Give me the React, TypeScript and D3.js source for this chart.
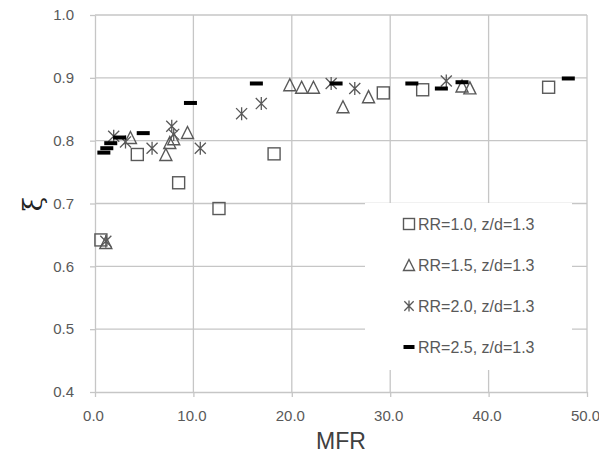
import React, { useEffect, useRef } from 'react';
import * as d3 from 'd3';

// [MFR, xi]
const rr10 = [[0.6, 0.642], [4.3, 0.778], [8.5, 0.733], [12.6, 0.692], [18.2, 0.779], [29.3, 0.876], [33.3, 0.881], [46.1, 0.885]];
const rr15 = [[1.1, 0.638], [3.6, 0.805], [7.2, 0.778], [7.6, 0.797], [8.0, 0.803], [9.4, 0.813], [19.8, 0.889], [21.0, 0.885], [22.2, 0.885], [25.2, 0.854], [27.8, 0.870], [37.3, 0.887], [38.1, 0.884]];
const rr20 = [[1.1, 0.640], [1.9, 0.807], [3.1, 0.798], [5.8, 0.788], [7.8, 0.823], [8.0, 0.810], [10.7, 0.788], [14.9, 0.843], [16.9, 0.859], [24.0, 0.891], [26.4, 0.883], [35.7, 0.895]];
const rr25 = [[0.9, 0.781], [1.2, 0.788], [1.6, 0.796], [2.5, 0.805], [4.9, 0.812], [9.7, 0.860], [16.4, 0.891], [24.5, 0.891], [32.2, 0.891], [35.2, 0.883], [37.3, 0.893], [48.1, 0.899]];

const xTicks = [0, 10, 20, 30, 40, 50];
const yTicks = [0.4, 0.5, 0.6, 0.7, 0.8, 0.9, 1.0];
const legendLabels = ['RR=1.0, z/d=1.3', 'RR=1.5, z/d=1.3', 'RR=2.0, z/d=1.3', 'RR=2.5, z/d=1.3'];

const W = 599, H = 454;
const gray = '#595959';
const grid = '#c6c6c6';
const font = 'Liberation Sans, Arial, sans-serif';

// marker shapes, centred on 0,0
function drawMarker(g, kind, s) {
  const h = s / 2;
  if (kind === 0) {
    g.append('rect').attr('x', -h).attr('y', -h).attr('width', s).attr('height', s)
      .attr('fill', 'none').attr('stroke', gray).attr('stroke-width', 1.4);
  } else if (kind === 1) {
    g.append('path').attr('d', `M0,${-h}L${h},${h}L${-h},${h}Z`)
      .attr('fill', 'none').attr('stroke', gray).attr('stroke-width', 1.4);
  } else if (kind === 2) {
    const d = h * 0.85;
    g.append('path').attr('d', `M0,${-h}V${h}M${-d},${-d}L${d},${d}M${-d},${d}L${d},${-d}`)
      .attr('fill', 'none').attr('stroke', gray).attr('stroke-width', 1.3);
  } else {
    g.append('rect').attr('x', -h).attr('y', -2).attr('width', s).attr('height', 4)
      .attr('fill', '#000');
  }
}

function Chart() {
  const ref = useRef(null);
  useEffect(() => {
    const svg = d3.select(ref.current);
    svg.selectAll('*').remove();

    const x = d3.scaleLinear().domain([0, 50]).range([95, 587]);
    const y = d3.scaleLinear().domain([0.4, 1.0]).range([392, 15]);

    // gridlines
    svg.append('g').selectAll('line').data(yTicks.slice(1)).join('line')
      .attr('x1', x(0)).attr('x2', x(50)).attr('y1', d => y(d)).attr('y2', d => y(d))
      .attr('stroke', grid).attr('stroke-width', 1.3);
    svg.append('g').selectAll('line').data(xTicks.slice(1)).join('line')
      .attr('x1', d => x(d)).attr('x2', d => x(d)).attr('y1', y(0.4)).attr('y2', y(1.0))
      .attr('stroke', grid).attr('stroke-width', 1.3);

    const yAxis = svg.append('g').attr('transform', `translate(${x(0)},0)`)
      .call(d3.axisLeft(y).tickValues(yTicks).tickFormat(d3.format('.1f')).tickSize(5).tickPadding(16).tickSizeOuter(0));
    const xAxis = svg.append('g').attr('transform', `translate(0,${y(0.4)})`)
      .call(d3.axisBottom(x).tickValues(xTicks).tickFormat(d3.format('.1f')).tickSize(5).tickPadding(13).tickSizeOuter(0));
    [yAxis, xAxis].forEach(a => {
      a.select('.domain').attr('stroke', grid).attr('stroke-width', 1.3);
      a.selectAll('.tick line').attr('stroke', grid).attr('stroke-width', 1.3);
      a.selectAll('.tick text').attr('fill', gray).style('font-family', font).style('font-size', '15px');
    });
    xAxis.selectAll('.tick text').attr('dx', -2);

    // legend box (covers the grid)
    svg.append('rect').attr('x', 365).attr('y', 203).attr('width', 207).attr('height', 167).attr('fill', '#fff');

    const series = [rr10, rr15, rr20, rr25];
    const sizes = [12, 12, 13, 13];
    series.forEach((data, k) => {
      svg.append('g').selectAll('g').data(data).join('g')
        .attr('transform', d => `translate(${x(d[0])},${y(d[1])})`)
        .each(function () { drawMarker(d3.select(this), k, sizes[k]); });
    });

    const leg = svg.append('g');
    legendLabels.forEach((t, i) => {
      const cy = 224 + i * 41;
      const m = leg.append('g').attr('transform', `translate(409,${cy})`);
      drawMarker(m, i, 11);
      leg.append('text').attr('x', 418).attr('y', cy).attr('dy', '0.35em')
        .attr('fill', gray).style('font-family', font).style('font-size', '16px').text(t);
    });

    // axis titles
    svg.append('text').attr('x', (x(0) + x(50)) / 2).attr('y', 449)
      .attr('text-anchor', 'middle').attr('fill', '#404040')
      .style('font-family', font).style('font-size', '23px').text('MFR');
    svg.append('text').attr('transform', 'translate(33,204) rotate(-90)')
      .attr('text-anchor', 'middle').attr('dy', '0.35em').attr('fill', '#222')
      .style('font-family', 'DejaVu Serif, serif').style('font-size', '26px').text('ξ');
  }, []);

  return <svg ref={ref} width={W} height={H} style={{ position: 'absolute', left: 0, top: 0, background: '#fff' }} />;
}

export default function App() {
  return <Chart />;
}
